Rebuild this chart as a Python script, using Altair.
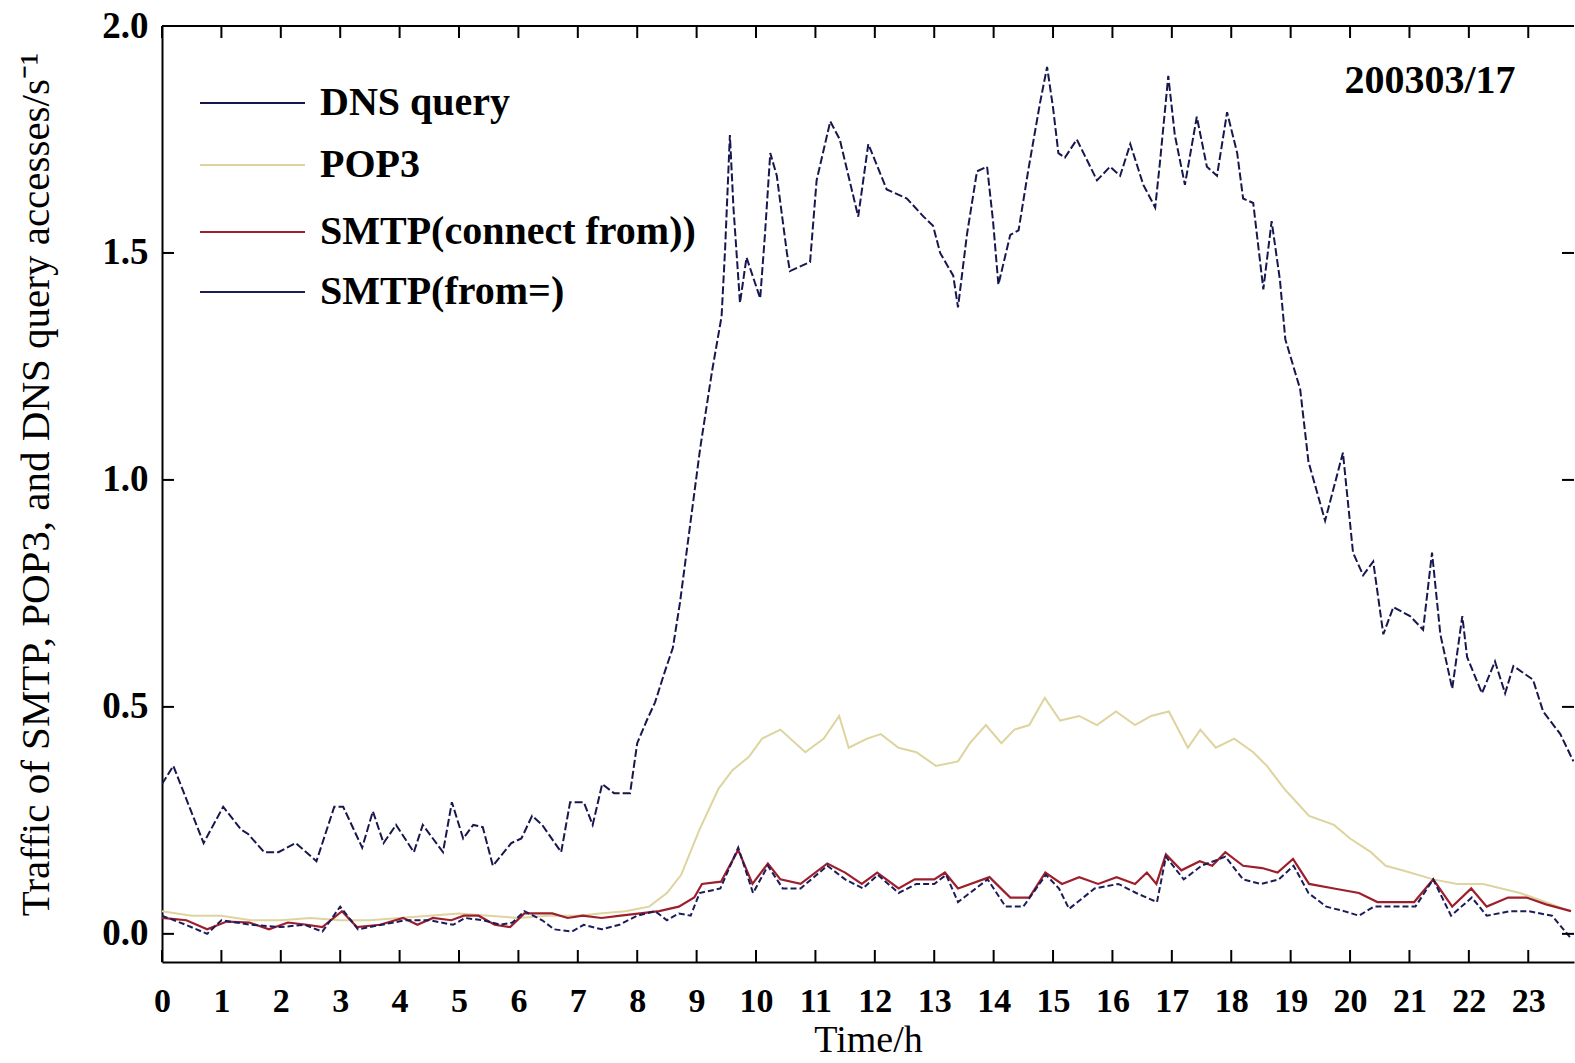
import altair as alt
import pandas as pd

# ---- traffic series (hour of day, accesses per second) ----
dns_hours = [0.0, 0.19, 0.70, 1.03, 1.33, 1.45, 1.72, 1.96, 2.25, 2.6, 2.9, 3.05, 3.37, 3.55, 3.73,
             3.94, 4.24, 4.39, 4.73, 4.88, 5.07, 5.24, 5.4, 5.57, 5.88, 6.05, 6.23, 6.4, 6.72, 6.87,
             7.1, 7.25, 7.41, 7.61, 7.88, 8.0, 8.16, 8.3, 8.47, 8.6, 8.72, 8.89, 9.06, 9.26, 9.42,
             9.48, 9.56, 9.62, 9.73, 9.84, 10.07, 10.15, 10.24, 10.35, 10.52, 10.57, 10.91, 11.02,
             11.25, 11.41, 11.72, 11.89, 12.2, 12.54, 12.82, 12.98, 13.1, 13.32, 13.40, 13.55, 13.72,
             13.89, 13.99, 14.08, 14.28, 14.42, 14.58, 14.78, 14.9, 15.0, 15.09, 15.2, 15.4, 15.74,
             15.96, 16.13, 16.3, 16.52, 16.72, 16.8, 16.94, 17.05, 17.22, 17.42, 17.59, 17.76, 17.93,
             18.1, 18.2, 18.37, 18.54, 18.68, 18.82, 18.91, 19.16, 19.3, 19.58, 19.88, 20.05, 20.22,
             20.39, 20.56, 20.73, 21.01, 21.23, 21.38, 21.52, 21.72, 21.89, 21.97, 22.22, 22.44,
             22.61, 22.75, 23.08, 23.25, 23.54, 23.76]
dns_values = [0.33, 0.37, 0.20, 0.28, 0.23, 0.22, 0.18, 0.18, 0.20, 0.16, 0.28, 0.28, 0.19, 0.27, 0.20,
              0.24, 0.18, 0.24, 0.18, 0.29, 0.21, 0.24, 0.235, 0.15, 0.20, 0.21, 0.26, 0.24, 0.18, 0.29,
              0.29, 0.24, 0.33, 0.31, 0.31, 0.42, 0.47, 0.51, 0.58, 0.63, 0.73, 0.90, 1.07, 1.24, 1.36,
              1.51, 1.76, 1.60, 1.39, 1.49, 1.40, 1.54, 1.72, 1.67, 1.50, 1.46, 1.48, 1.66,
              1.79, 1.75, 1.58, 1.74, 1.64, 1.62, 1.58, 1.56, 1.50, 1.45, 1.38, 1.54, 1.68,
              1.69, 1.57, 1.43, 1.54, 1.55, 1.68, 1.83, 1.91, 1.82, 1.72, 1.71, 1.75, 1.66,
              1.69, 1.67, 1.74, 1.65, 1.60, 1.70, 1.89, 1.76, 1.65, 1.80, 1.69, 1.67, 1.81,
              1.72, 1.62, 1.61, 1.42, 1.57, 1.44, 1.31, 1.20, 1.04, 0.91, 1.06, 0.84, 0.79,
              0.82, 0.66, 0.72, 0.70, 0.67, 0.84, 0.66, 0.54, 0.70, 0.61, 0.53, 0.60,
              0.53, 0.59, 0.56, 0.49, 0.44, 0.38]

pop3_hours = [0.0, 0.5, 1.0, 1.5, 2.0, 2.5, 3.0, 3.5, 4.0, 4.5, 5.0, 5.5, 6.0, 6.5, 7.0, 7.37, 7.8,
              8.2, 8.5, 8.74, 9.05, 9.37, 9.6, 9.88, 10.1, 10.41, 10.83, 11.14, 11.4, 11.56, 11.87,
              12.1, 12.4, 12.7, 13.03, 13.4, 13.6, 13.87, 14.13, 14.35, 14.6, 14.86, 15.12, 15.44,
              15.74, 16.06, 16.38, 16.65, 16.95, 17.27, 17.48, 17.74, 18.05, 18.37, 18.6, 18.89,
              19.1, 19.31, 19.73, 20.0, 20.35, 20.6, 20.88, 21.4, 21.8, 22.24, 22.86, 23.3, 23.7]
pop3_values = [0.05, 0.04, 0.04, 0.03, 0.03, 0.035, 0.03, 0.03, 0.035, 0.04, 0.045, 0.04, 0.035, 0.04,
               0.04, 0.045, 0.05, 0.06, 0.09, 0.13, 0.23, 0.32, 0.36, 0.39, 0.43, 0.45, 0.40, 0.43,
               0.48, 0.41, 0.43, 0.44, 0.41, 0.40, 0.37, 0.38, 0.42, 0.46, 0.42, 0.45, 0.46, 0.52,
               0.47, 0.48, 0.46, 0.49, 0.46, 0.48, 0.49, 0.41, 0.45, 0.41, 0.43, 0.40, 0.37, 0.32,
               0.29, 0.26, 0.24, 0.21, 0.18, 0.15, 0.14, 0.12, 0.11, 0.11, 0.09, 0.07, 0.05]

smtp_conn_hours = [0.0, 0.41, 0.76, 1.09, 1.47, 1.8, 2.12, 2.44, 2.7, 3.03, 3.28, 3.67, 4.06, 4.3,
                   4.56, 4.87, 5.08, 5.33, 5.6, 5.86, 6.1, 6.3, 6.57, 6.83, 7.08, 7.4, 7.72, 8.05,
                   8.37, 8.7, 8.96, 9.09, 9.41, 9.7, 9.94, 10.2, 10.41, 10.75, 11.2, 11.5, 11.78,
                   12.04, 12.4, 12.67, 13.0, 13.18, 13.4, 13.93, 14.28, 14.6, 14.87, 15.15, 15.44,
                   15.76, 16.07, 16.38, 16.58, 16.74, 16.9, 17.16, 17.47, 17.68, 17.9, 18.2, 18.52,
                   18.78, 19.04, 19.31, 19.73, 20.15, 20.46, 21.08, 21.4, 21.72, 22.04, 22.3, 22.66,
                   22.97, 23.3, 23.72]
smtp_conn_values = [0.035, 0.03, 0.01, 0.027, 0.025, 0.01, 0.025, 0.02, 0.015, 0.05, 0.015, 0.02,
                    0.035, 0.02, 0.035, 0.03, 0.04, 0.04, 0.02, 0.015, 0.045, 0.045, 0.045, 0.035,
                    0.04, 0.035, 0.04, 0.045, 0.05, 0.06, 0.08, 0.11, 0.115, 0.185, 0.11, 0.155,
                    0.12, 0.11, 0.155, 0.135, 0.11, 0.135, 0.10, 0.12, 0.12, 0.135, 0.10, 0.125,
                    0.08, 0.08, 0.135, 0.11, 0.125, 0.11, 0.125, 0.11, 0.135, 0.11, 0.175, 0.14,
                    0.16, 0.15, 0.18, 0.15, 0.145, 0.135, 0.165, 0.11, 0.10, 0.09, 0.07, 0.07, 0.12,
                    0.06, 0.10, 0.06, 0.08, 0.08, 0.065, 0.05]

smtp_from_hours = [0.0, 0.4, 0.76, 1.0, 1.5, 2.0, 2.4, 2.7, 3.0, 3.3, 3.7, 4.1, 4.5, 4.9, 5.1, 5.4,
                   5.7, 5.9, 6.1, 6.4, 6.6, 6.9, 7.1, 7.4, 7.7, 8.0, 8.3, 8.5, 8.7, 8.9, 9.05, 9.4,
                   9.7, 9.95, 10.2, 10.45, 10.75, 11.2, 11.5, 11.8, 12.05, 12.4, 12.7, 13.0, 13.2,
                   13.4, 13.9, 14.2, 14.5, 14.88, 15.1, 15.27, 15.7, 16.1, 16.4, 16.75, 16.9, 17.2,
                   17.5, 17.9, 18.2, 18.5, 18.8, 19.05, 19.3, 19.6, 19.9, 20.15, 20.4, 20.8, 21.1,
                   21.4, 21.7, 22.05, 22.3, 22.7, 23.0, 23.4, 23.72]
smtp_from_values = [0.04, 0.02, 0.0, 0.03, 0.02, 0.015, 0.02, 0.005, 0.06, 0.01, 0.02, 0.03, 0.03,
                    0.02, 0.035, 0.03, 0.02, 0.025, 0.05, 0.03, 0.01, 0.005, 0.02, 0.01, 0.02, 0.04,
                    0.05, 0.03, 0.045, 0.04, 0.09, 0.10, 0.19, 0.09, 0.15, 0.10, 0.10, 0.15, 0.12,
                    0.10, 0.13, 0.09, 0.11, 0.11, 0.13, 0.07, 0.12, 0.06, 0.06, 0.13, 0.10, 0.055,
                    0.10, 0.11, 0.09, 0.07, 0.17, 0.12, 0.15, 0.17, 0.12, 0.11, 0.12, 0.15, 0.09,
                    0.06, 0.05, 0.04, 0.06, 0.06, 0.06, 0.12, 0.04, 0.08, 0.04, 0.05, 0.05, 0.04,
                    -0.01]

series_names = ["DNS query", "POP3", "SMTP(connect from))", "SMTP(from=)"]
series_colors = ["#17174f", "#ddd49e", "#9e1f2c", "#1c1c5a"]
date_label = "200303/17"

hour_ticks = list(range(24))
value_ticks = [0.0, 0.5, 1.0, 1.5, 2.0]

W, H = 1412, 936
FONT = "Liberation Serif"
X_MAX = 23.77
Y_MIN, Y_MAX = -0.062, 2.0

x_scale = alt.Scale(domain=[0, X_MAX], nice=False, zero=False)
y_scale = alt.Scale(domain=[Y_MIN, Y_MAX], nice=False, zero=False)

x_enc = alt.X(
    "hour:Q", scale=x_scale,
    axis=alt.Axis(values=hour_ticks, title="Time/h", ticks=False, grid=False,
                  domain=True, domainColor="black", domainWidth=2,
                  labelFont=FONT, labelFontWeight="bold", labelFontSize=34, labelColor="black",
                  labelPadding=22, labelFlush=False, labelOverlap=False,
                  titleFont=FONT, titleFontWeight="normal", titleFontSize=38, titleColor="black",
                  titlePadding=3),
)
y_enc = alt.Y(
    "value:Q", scale=y_scale,
    axis=alt.Axis(values=value_ticks, format=".1f",
                  title="Traffic of SMTP, POP3, and DNS query accesses/s\u207b\u00b9",
                  ticks=False, grid=False, domain=True, domainColor="black", domainWidth=2,
                  labelFont=FONT, labelFontWeight="bold", labelFontSize=37, labelColor="black",
                  labelPadding=14, labelFlush=False, labelOverlap=False,
                  titleFont=FONT, titleFontWeight="normal", titleFontSize=41, titleColor="black",
                  titleX=-126, titleY=458, titleAlign="center", titleBaseline="middle"),
)


def series_frame(hours, values):
    return pd.DataFrame({"hour": hours, "value": values})


def series_line(hours, values, color, dash=None, width=2.0):
    kw = dict(color=color, strokeWidth=width, clip=True)
    if dash:
        kw["strokeDash"] = dash
    return alt.Chart(series_frame(hours, values)).mark_line(**kw).encode(x=x_enc, y=y_enc)


pop3_line = series_line(pop3_hours, pop3_values, series_colors[1], width=2.0)
conn_line = series_line(smtp_conn_hours, smtp_conn_values, series_colors[2], width=2.2)
from_line = series_line(smtp_from_hours, smtp_from_values, series_colors[3], dash=[6, 3], width=2.0)
dns_line = series_line(dns_hours, dns_values, series_colors[0], dash=[8, 3], width=2.0)

# inward tick marks on the frame
hour_df = pd.DataFrame({"hour": hour_ticks})
bottom_ticks = alt.Chart(hour_df).mark_rule(color="black", strokeWidth=2).encode(
    x=x_enc, y=alt.value(H), y2=alt.value(H - 12))
top_ticks = alt.Chart(hour_df).mark_rule(color="black", strokeWidth=2).encode(
    x=x_enc, y=alt.value(0), y2=alt.value(12))
val_df = pd.DataFrame({"value": value_ticks[:-1]})
left_ticks = alt.Chart(val_df).mark_rule(color="black", strokeWidth=2).encode(
    y=y_enc, x=alt.value(0), x2=alt.value(12))
right_ticks = alt.Chart(val_df).mark_rule(color="black", strokeWidth=2).encode(
    y=y_enc, x=alt.value(W - 12), x2=alt.value(W))
top_border = alt.Chart(hour_df).mark_rule(color="black", strokeWidth=2).encode(
    x=alt.value(0), x2=alt.value(W), y=alt.value(0))

one_row = alt.Data(values=[{}])

# legend: swatch line plus label for each series
legend_layers = []
row_y = [77, 139, 206, 266]
for name, color, ry in zip(series_names, series_colors, row_y):
    legend_layers.append(
        alt.Chart(one_row).mark_rule(color=color, strokeWidth=2.2).encode(
            x=alt.value(38), x2=alt.value(143), y=alt.value(ry)))
    legend_layers.append(
        alt.Chart(one_row).mark_text(text=name, font=FONT, fontWeight="bold", fontSize=40,
                                     align="left", baseline="middle", color="black").encode(
            x=alt.value(158), y=alt.value(ry)))

date_text = alt.Chart(one_row).mark_text(
    text=date_label, font=FONT, fontWeight="bold", fontSize=40,
    align="center", baseline="middle", color="black").encode(
    x=alt.value(1268), y=alt.value(55))

chart = alt.layer(
    pop3_line, conn_line, from_line, dns_line,
    bottom_ticks, top_ticks, left_ticks, right_ticks, top_border,
    date_text, *legend_layers,
).properties(
    width=W, height=H,
    autosize=alt.AutoSizeParams(type="none"),
    padding={"left": 162, "top": 26, "right": 1, "bottom": 101},
    background="white",
).configure_view(stroke=None)

chart.save("out.html", embed_options={"renderer": "svg", "actions": False})
